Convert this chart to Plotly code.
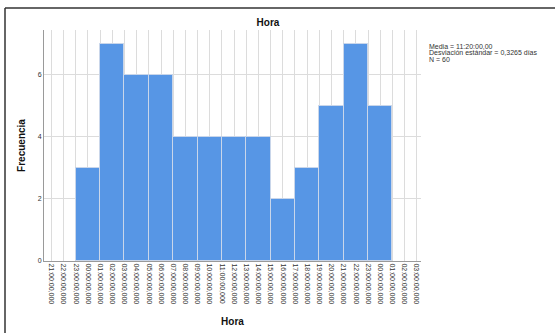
import plotly.graph_objects as go

# Data
tick_labels = ["21:00:00,000", "22:00:00,000", "23:00:00,000"] + \
    [f"{h:02d}:00:00,000" for h in range(24)] + \
    ["00:00:00,000", "01:00:00,000", "02:00:00,000", "03:00:00,000"]
# bin starts in hours since 21:00 (bins of 2 hours)
bin_starts_h = [2, 4, 6, 8, 10, 12, 14, 16, 18, 20, 22, 24, 26]
counts = [3, 7, 6, 6, 4, 4, 4, 4, 2, 3, 5, 7, 5]
bin_width_h = 2
stats_lines = ["Media = 11:20:00,00", "Desviación estándar = 0,3265 días", "N = 60"]

W, H = 555, 333
L, R, T, B = 44, 134, 30, 72
pw, ph = W - L - R, H - T - B

def px2x(px):
    return (px - L) / pw

def px2y(py):
    return (H - B - py) / ph

fig = go.Figure()
fig.add_trace(go.Bar(
    x=[s + bin_width_h / 2 for s in bin_starts_h],
    y=counts,
    width=bin_width_h,
    marker=dict(color="#5796E5", line=dict(color="#C9D6EA", width=1)),
    hoverinfo="x+y",
))

font = "Liberation Sans, Arial, sans-serif"
annots = []
for i, line in enumerate(stats_lines):
    annots.append(dict(text=line, xref="paper", yref="paper",
                       x=px2x(427), y=px2y(46 + i * 6.7), xanchor="left", yanchor="middle",
                       align="left", showarrow=False,
                       font=dict(size=7, color="#333", family=font)))

fig.update_layout(
    width=W, height=H,
    margin=dict(l=L, r=R, t=T, b=B, autoexpand=False),
    paper_bgcolor="white", plot_bgcolor="white",
    showlegend=False,
    bargap=0,
    font=dict(family=font, color="#222"),
    title=dict(text="<b>Hora</b>", x=268 / W, xanchor="center",
               y=1 - 22 / H, yanchor="middle", font=dict(size=10, color="#111")),
    xaxis=dict(
        range=[-0.61, 30.35],
        tickmode="array",
        tickvals=list(range(len(tick_labels))),
        ticktext=tick_labels,
        tickangle=90,
        tickfont=dict(size=7, color="#333"),
        showgrid=True, gridcolor="#DCDCDC", gridwidth=1,
        showline=True, linecolor="#9A9A9A", linewidth=1,
        ticks="", zeroline=False, automargin=False,
        title=dict(text="<b>Hora</b>", font=dict(size=10, color="#111"), standoff=14),
    ),
    yaxis=dict(
        range=[0, 7.45],
        tickvals=[0, 2, 4, 6],
        tickfont=dict(size=7, color="#333"),
        showgrid=True, gridcolor="#DCDCDC", gridwidth=1,
        showline=True, linecolor="#9A9A9A", linewidth=1,
        ticks="", zeroline=False, automargin=False,
        title=dict(text="<b>Frecuencia</b>", font=dict(size=10, color="#111"), standoff=10),
    ),
    shapes=[
        dict(type="line", xref="paper", yref="paper",
             x0=px2x(5), x1=px2x(5), y0=px2y(333), y1=px2y(8),
             line=dict(color="#333", width=1.5)),
        dict(type="line", xref="paper", yref="paper",
             x0=px2x(5), x1=px2x(555), y0=px2y(8), y1=px2y(8),
             line=dict(color="#333", width=1.5)),
    ],
    annotations=annots,
)

fig.write_html("out.html", config={"displayModeBar": False},
               post_script="document.body.style.margin='0';")
